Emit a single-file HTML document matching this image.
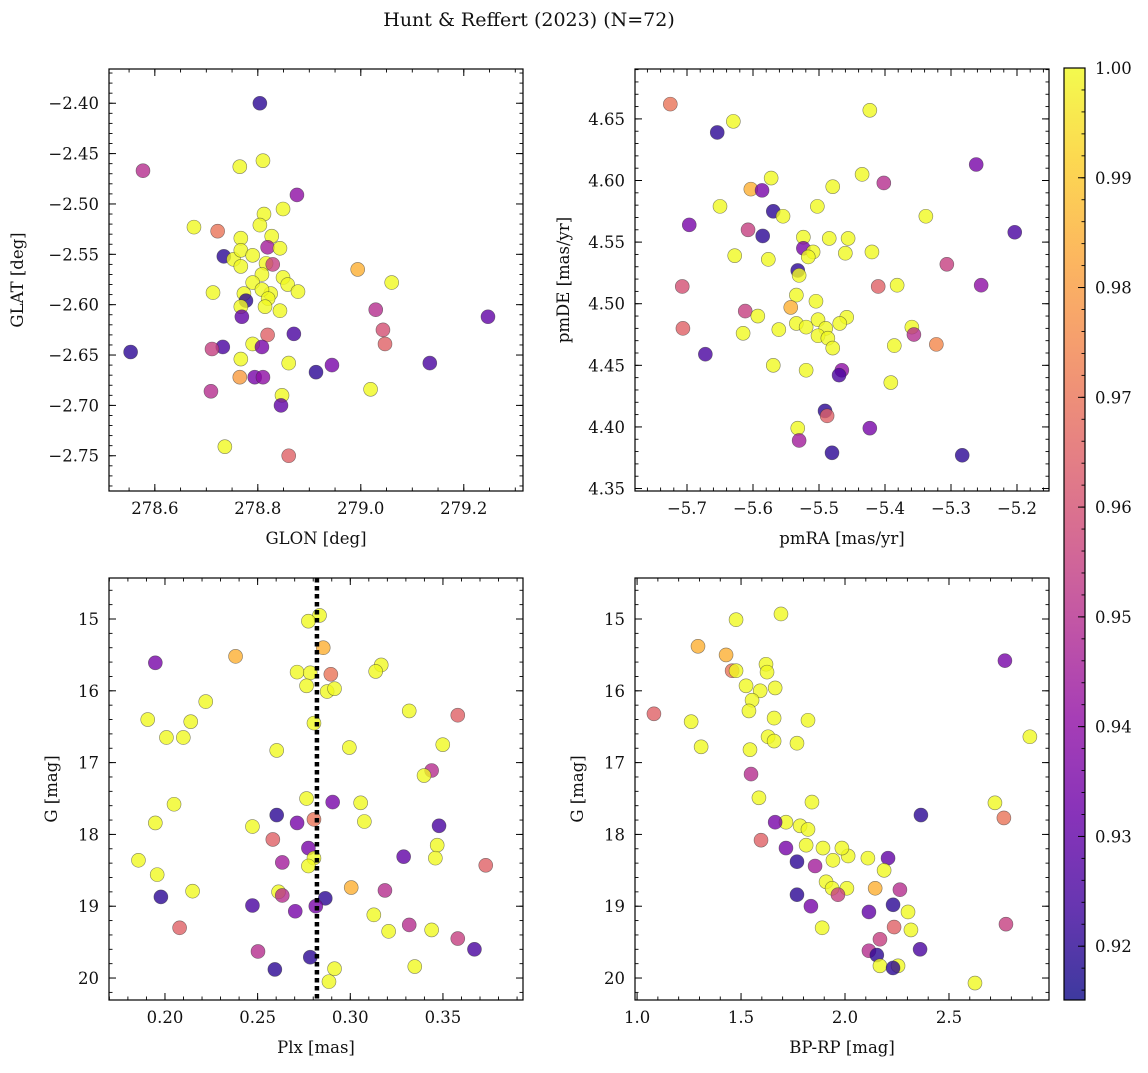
<!DOCTYPE html>
<html><head><meta charset="utf-8"><style>
html,body{margin:0;padding:0;background:#fff}
svg text{font-family:"DejaVu Serif","Liberation Serif",serif;fill:#111}
</style></head><body>
<svg id="fig" width="1148" height="1068" viewBox="0 0 1148 1068" xmlns="http://www.w3.org/2000/svg">
<defs><linearGradient id="cbgrad" x1="0" y1="1" x2="0" y2="0"></linearGradient></defs>
<text x="529" y="26" font-size="19" text-anchor="middle">Hunt &amp; Reffert (2023) (N=72)</text>
</svg>
<script>
// Panel A: GLON vs GLAT
const glon=[278.804,278.577,278.765,278.810,278.876,278.676,278.722,278.812,278.849,278.804,278.767,278.827,278.734,278.753,278.767,278.790,278.819,278.843,278.816,278.829,278.767,278.808,278.849,278.790,278.858,278.878,278.994,279.060,278.713,278.773,278.825,278.808,278.820,278.777,278.767,278.814,278.843,278.769,279.029,279.247,279.043,278.819,278.870,278.790,279.047,278.732,278.808,278.711,278.553,278.767,278.860,278.944,279.134,278.913,278.709,278.765,278.794,278.810,278.847,279.019,278.845,278.736,278.860];
const glat=[-2.400,-2.467,-2.463,-2.457,-2.491,-2.523,-2.527,-2.510,-2.505,-2.521,-2.534,-2.532,-2.552,-2.555,-2.546,-2.551,-2.543,-2.544,-2.559,-2.560,-2.562,-2.570,-2.573,-2.578,-2.580,-2.587,-2.565,-2.578,-2.588,-2.589,-2.589,-2.585,-2.594,-2.596,-2.602,-2.602,-2.606,-2.612,-2.605,-2.612,-2.625,-2.630,-2.629,-2.639,-2.639,-2.642,-2.642,-2.644,-2.647,-2.654,-2.658,-2.660,-2.658,-2.667,-2.686,-2.672,-2.672,-2.672,-2.690,-2.684,-2.700,-2.741,-2.750];
const probA=[.92,.95,1,1,.94,1,.97,1,1,1,1,1,.92,1,1,1,.945,1,1,.955,1,1,1,1,1,1,.985,1,1,1,1,1,1,.92,1,1,1,.93,.95,.93,.96,.965,.925,1,.965,.925,.935,.955,.92,1,1,.935,.925,.92,.95,.98,.935,.94,1,1,.93,1,.965];
// Panel B: pmRA vs pmDE
const pmra=[-5.7253,-5.6542,-5.6298,-5.4230,-5.4347,-5.4018,-5.2618,-5.5725,-5.6033,-5.5863,-5.6500,-5.4792,-5.5025,-5.6966,-5.5693,-5.5545,-5.3381,-5.6075,-5.5853,-5.5237,-5.4845,-5.4559,-5.5237,-5.5089,-5.4601,-5.4198,-5.2034,-5.6277,-5.5768,-5.5163,-5.5322,-5.5301,-5.3063,-5.4103,-5.3816,-5.2543,-5.7072,-5.5343,-5.5428,-5.6118,-5.5927,-5.5046,-5.4580,-5.5343,-5.5195,-5.5015,-5.4898,-5.4686,-5.5609,-5.6150,-5.7062,-5.3593,-5.3562,-5.3222,-5.5015,-5.4866,-5.4792,-5.3859,-5.6722,-5.5693,-5.5195,-5.4654,-5.4696,-5.3912,-5.4909,-5.4877,-5.5322,-5.4230,-5.4803,-5.5301,-5.2830];
const pmde=[4.662,4.639,4.648,4.657,4.605,4.598,4.613,4.602,4.593,4.592,4.579,4.595,4.579,4.564,4.575,4.571,4.571,4.560,4.555,4.554,4.553,4.553,4.545,4.542,4.541,4.542,4.558,4.539,4.536,4.538,4.527,4.523,4.532,4.514,4.515,4.515,4.514,4.507,4.497,4.494,4.490,4.502,4.489,4.484,4.481,4.487,4.480,4.484,4.479,4.476,4.480,4.481,4.475,4.467,4.474,4.472,4.464,4.466,4.459,4.450,4.446,4.446,4.442,4.436,4.413,4.409,4.399,4.399,4.379,4.389,4.377];
const probB=[.97,.92,1,1,1,.95,.935,1,.985,.935,1,1,1,.935,.92,1,1,.955,.92,1,1,1,.935,1,1,1,.925,1,1,1,.92,1,.955,.965,1,.94,.96,1,.985,.955,1,1,1,1,1,1,1,1,1,1,.965,1,.95,.975,1,1,1,1,.925,1,1,.94,.925,1,.92,.965,1,.935,.92,.945,.92];
// Panel C: Plx vs G
const plx=[.2834,.2774,.2854,.2381,.1948,.3167,.2713,.2784,.3137,.2895,.2764,.2875,.2915,.2220,.1907,.2139,.2008,.2099,.2603,.3318,.3580,.3499,.2804,.2995,.3439,.3398,.2049,.1948,.2472,.2764,.3056,.2905,.3076,.2603,.2713,.2582,.2804,.2774,.2804,.3479,.3469,.3459,.1857,.1958,.2633,.2774,.3288,.3731,.3005,.2149,.1978,.3187,.2613,.2633,.2865,.2814,.2472,.2703,.3127,.3207,.2079,.3439,.3318,.3580,.3670,.2502,.2784,.2915,.3348,.2593,.2885];
const gmagC=[14.95,15.03,15.40,15.52,15.61,15.64,15.74,15.75,15.73,15.77,15.93,16.01,15.97,16.15,16.40,16.43,16.65,16.65,16.83,16.28,16.34,16.75,16.45,16.79,17.11,17.18,17.58,17.84,17.89,17.50,17.56,17.55,17.82,17.73,17.84,18.07,17.79,18.19,18.33,17.88,18.15,18.33,18.36,18.56,18.39,18.44,18.31,18.43,18.74,18.79,18.87,18.78,18.80,18.85,18.89,19.00,18.99,19.07,19.12,19.35,19.30,19.33,19.26,19.45,19.60,19.63,19.71,19.87,19.84,19.88,20.05];
const probC=[1,1,.985,.985,.935,1,1,1,1,.97,1,1,1,1,1,1,1,1,1,1,.965,1,1,1,.95,1,1,1,1,1,1,.935,1,.92,.935,.965,.97,.935,1,.925,1,1,1,1,.945,1,.93,.965,.985,1,.92,.95,1,.95,.92,.935,.925,.935,1,1,.965,1,.95,.955,.925,.95,.92,1,1,.92,1];
const plxLine=0.2820;
// Panel D: BP-RP vs G
const bprp=[1.692,1.476,1.293,1.428,1.457,1.476,1.620,1.625,1.524,1.592,1.664,1.553,1.538,1.659,2.769,1.081,1.260,1.822,1.548,1.630,1.659,1.543,1.308,2.889,1.769,1.586,1.716,1.841,1.784,1.822,1.664,2.721,2.764,2.365,1.716,1.769,1.856,1.596,1.942,1.813,1.894,2.015,1.985,2.110,2.207,2.188,1.909,1.938,2.009,2.145,1.769,1.966,1.836,2.264,2.231,2.303,1.890,2.115,2.236,2.317,2.168,2.115,2.153,2.361,2.168,2.255,2.774,2.231,2.625];
const gmagD=[14.93,15.01,15.38,15.50,15.72,15.72,15.63,15.74,15.93,16.00,15.96,16.13,16.28,16.38,15.58,16.32,16.43,16.41,17.16,16.64,16.70,16.82,16.78,16.64,16.73,17.49,17.83,17.55,17.88,17.93,17.83,17.56,17.77,17.73,18.19,18.38,18.44,18.08,18.36,18.15,18.19,18.30,18.19,18.33,18.33,18.50,18.66,18.75,18.75,18.75,18.84,18.84,19.00,18.77,18.98,19.08,19.30,19.08,19.29,19.33,19.46,19.62,19.68,19.60,19.83,19.83,19.25,19.86,20.07];
const probD=[1,1,.985,.985,.97,1,1,1,1,1,1,1,1,1,.935,.965,1,1,.95,1,1,1,1,1,1,1,1,1,1,1,.935,1,.97,.92,.935,.92,.945,.965,1,1,1,1,1,1,.93,1,1,1,1,.985,.92,.955,.935,.95,.92,1,1,.93,.965,1,.955,.95,.92,.925,1,1,.955,.92,1];
const cbTicks=[0.92,0.93,0.94,0.95,0.96,0.97,0.98,0.99,1.00];
const cbMin=0.9151, cbMax=1.0;

const NS="http://www.w3.org/2000/svg";
const svg=document.getElementById('fig');
function mk(tag,attrs,parent){const e=document.createElementNS(NS,tag);for(const k in attrs)e.setAttribute(k,attrs[k]);(parent||svg).appendChild(e);return e;}
const stops=[[0,13,8,135],[.1,65,4,157],[.2,106,0,168],[.3,143,13,164],[.4,177,42,144],[.5,204,71,120],[.6,225,100,98],[.7,242,132,75],[.8,252,166,54],[.9,252,206,37],[1,240,249,33]];
function plasma(t){t=Math.max(0,Math.min(1,t));for(let i=1;i<stops.length;i++){if(t<=stops[i][0]){const a=stops[i-1],b=stops[i];const f=(t-a[0])/(b[0]-a[0]);return `rgb(${Math.round(a[1]+f*(b[1]-a[1]))},${Math.round(a[2]+f*(b[2]-a[2]))},${Math.round(a[3]+f*(b[3]-a[3]))})`;}}return 'rgb(240,249,33)';}
function pcol(p){return plasma((p-cbMin)/(cbMax-cbMin));}
function fmt(v,d){const s=v.toFixed(d);return s.startsWith('-')?'\u2212'+s.slice(1):s;}
function ticks(a,b,step){const lo=Math.min(a,b),hi=Math.max(a,b);const out=[];for(let k=Math.ceil(lo/step-1e-9);k<=Math.floor(hi/step+1e-9);k++)out.push(+(k*step).toFixed(6));return out;}

function panel(c){
  const g=mk('g',{});
  
  
  const sx=v=>c.x0+(v-c.xd[0])/(c.xd[1]-c.xd[0])*(c.x1-c.x0);
  const sy=v=>c.y1-(v-c.yd[0])/(c.yd[1]-c.yd[0])*(c.y1-c.y0);
  const pg=mk('g',{},g);
  
  
  for(let i=0;i<c.xs.length;i++){
    const pt=mk('circle',{cx:sx(c.xs[i]),cy:sy(c.ys[i]),r:7,fill:pcol(c.ps[i]),'fill-opacity':0.8,stroke:'#333','stroke-opacity':0.6,'stroke-width':0.6},pg);
    
    
  }
  if(c.extra)c.extra(g,sx,sy);
  const fr=mk('rect',{x:c.x0,y:c.y0,width:c.x1-c.x0,height:c.y1-c.y0,fill:'none',stroke:'#000','stroke-width':1.2},g);
  
  
  for(const v of ticks(c.xd[0],c.xd[1],c.xmin)){const x=sx(v);mk('line',{x1:x,x2:x,y1:c.y1,y2:c.y1-3.5,stroke:'#000','stroke-width':0.9},g);mk('line',{x1:x,x2:x,y1:c.y0,y2:c.y0+3.5,stroke:'#000','stroke-width':0.9},g);}
  for(const v of ticks(c.xd[0],c.xd[1],c.xmaj)){const x=sx(v);mk('line',{x1:x,x2:x,y1:c.y1,y2:c.y1-7,stroke:'#000','stroke-width':1},g);mk('line',{x1:x,x2:x,y1:c.y0,y2:c.y0+7,stroke:'#000','stroke-width':1},g);
    const t=mk('text',{x:x,y:c.y1+23,'font-size':16.5,'text-anchor':'middle'},g);t.textContent=fmt(v,c.xdec);
    
    }
  const lo=Math.min(...c.yd),hi=Math.max(...c.yd);
  for(const v of ticks(lo,hi,c.ymin)){const y=sy(v);mk('line',{x1:c.x0,x2:c.x0+3.5,y1:y,y2:y,stroke:'#000','stroke-width':0.9},g);mk('line',{x1:c.x1,x2:c.x1-3.5,y1:y,y2:y,stroke:'#000','stroke-width':0.9},g);}
  for(const v of ticks(lo,hi,c.ymaj)){const y=sy(v);mk('line',{x1:c.x0,x2:c.x0+7,y1:y,y2:y,stroke:'#000','stroke-width':1},g);mk('line',{x1:c.x1,x2:c.x1-7,y1:y,y2:y,stroke:'#000','stroke-width':1},g);
    const t=mk('text',{x:c.x0-10,y:y+6,'font-size':16.5,'text-anchor':'end'},g);t.textContent=fmt(v,c.ydec);
    
    }
  const xl=mk('text',{x:(c.x0+c.x1)/2,y:c.y1+53,'font-size':16.5,'text-anchor':'middle'},g);xl.textContent=c.xlabel;
  
  
  const yl=mk('text',{x:0,y:0,'font-size':16.5,'text-anchor':'middle',transform:`translate(${c.ylx},${(c.y0+c.y1)/2}) rotate(-90)`},g);yl.textContent=c.ylabel;
  
  
}

panel({name:'glon-glat-panel',x0:109,x1:523,y0:69,y1:491,xd:[278.511,279.315],yd:[-2.785,-2.366],xmaj:0.2,xmin:0.05,ymaj:0.05,ymin:0.01,xdec:1,ydec:2,xs:glon,ys:glat,ps:probA,xlabel:'GLON [deg]',ylabel:'GLAT [deg]',ylx:23});
panel({name:'proper-motion-panel',x0:635,x1:1049,y0:69,y1:491,xd:[-5.7788,-5.1515],yd:[4.348,4.6905],xmaj:0.1,xmin:0.02,ymaj:0.05,ymin:0.01,xdec:1,ydec:2,xs:pmra,ys:pmde,ps:probB,xlabel:'pmRA [mas/yr]',ylabel:'pmDE [mas/yr]',ylx:569});
panel({name:'parallax-panel',x0:109,x1:523,y0:578,y1:1000,xd:[0.1698,0.3932],yd:[20.306,14.429],xmaj:0.05,xmin:0.01,ymaj:1,ymin:0.2,xdec:2,ydec:0,xs:plx,ys:gmagC,ps:probC,xlabel:'Plx [mas]',ylabel:'G [mag]',ylx:57,
  extra:(g,sx,sy)=>{const l=mk('line',{x1:sx(plxLine),x2:sx(plxLine),y1:578,y2:1000,stroke:'#000','stroke-width':4.5,'stroke-dasharray':'4.5 3.5'},g);
    
    }});
panel({name:'cmd-panel',x0:635,x1:1049,y0:578,y1:1000,xd:[0.990,2.981],yd:[20.306,14.429],xmaj:0.5,xmin:0.1,ymaj:1,ymin:0.2,xdec:1,ydec:0,xs:bprp,ys:gmagD,ps:probD,xlabel:'BP-RP [mag]',ylabel:'G [mag]',ylx:583});

const grad=document.getElementById('cbgrad');
for(let i=0;i<=20;i++){mk('stop',{offset:i/20,'stop-color':plasma(i/20)},grad);}
const cb=mk('g',{});


const cx0=1064,cx1=1085,cy0=68,cy1=1000;
mk('rect',{x:cx0,y:cy0,width:cx1-cx0,height:cy1-cy0,fill:'url(#cbgrad)','fill-opacity':0.8},cb);
mk('rect',{x:cx0,y:cy0,width:cx1-cx0,height:cy1-cy0,fill:'none',stroke:'#000','stroke-width':1.2},cb);
const cy=v=>cy1-(v-cbMin)/(cbMax-cbMin)*(cy1-cy0);
for(const v of ticks(cbMin,cbMax,0.002)){mk('line',{x1:cx1,x2:cx1-3.5,y1:cy(v),y2:cy(v),stroke:'#000','stroke-width':0.9},cb);}
for(const v of cbTicks){const y=cy(v);mk('line',{x1:cx1,x2:cx1-7,y1:y,y2:y,stroke:'#000','stroke-width':1},cb);
  const t=mk('text',{x:cx1+10,y:y+6,'font-size':16.5},cb);t.textContent=v.toFixed(2);
  
  }
</script>
</body></html>
